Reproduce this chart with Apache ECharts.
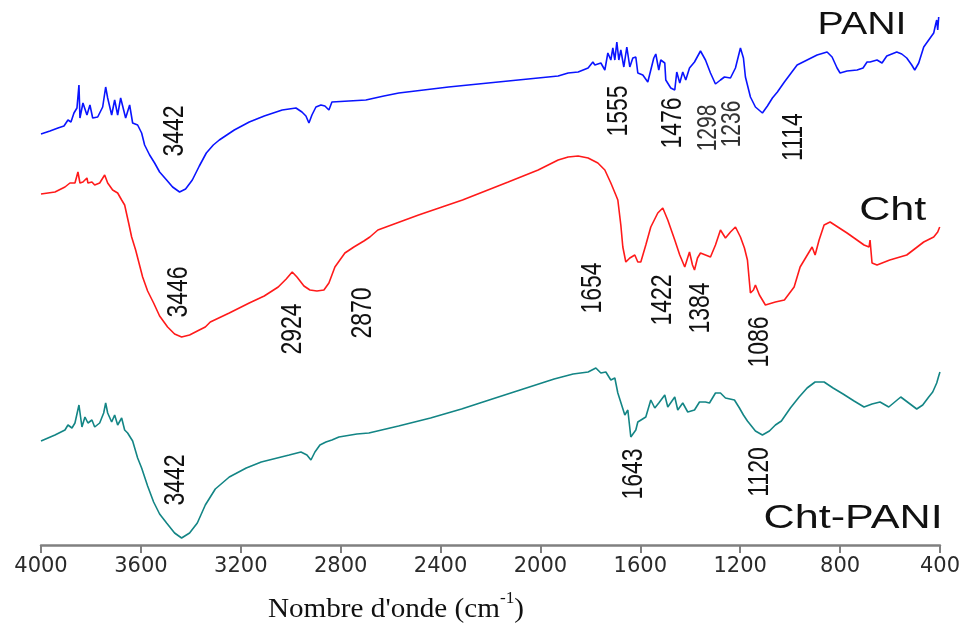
<!DOCTYPE html>
<html>
<head>
<meta charset="utf-8">
<script src="https://cdn.jsdelivr.net/npm/echarts@6/dist/echarts.min.js"></script>
<style>html,body{margin:0;padding:0;background:#fff}#c{width:963px;height:634px}</style>
</head>
<body>
<div id="c"></div>
<script>
// ---- Data (wavenumber cm-1, intensity in arbitrary offset units) ----
const xTicks = [4000,3600,3200,2800,2400,2000,1600,1200,800,400];

const paniWn = [4000,3964,3932,3908,3892,3880,3868,3856,3848,3844,3832,3816,3804,3793,3773,3753,3741,3733,3717,3705,3693,3681,3673,3661,3645,3633,3613,3597,3585,3565,3545,3525,3497,3473,3445,3421,3394,3366,3338,3310,3286,3226,3166,3106,3034,2979,2955,2939,2927,2915,2899,2879,2863,2847,2835,2767,2699,2627,2567,2368,2169,2009,1929,1889,1849,1809,1790,1782,1758,1742,1730,1718,1710,1702,1694,1686,1678,1666,1654,1642,1630,1618,1610,1590,1570,1558,1546,1538,1526,1518,1502,1498,1478,1462,1454,1442,1430,1418,1403,1383,1359,1339,1319,1299,1279,1263,1239,1219,1199,1187,1179,1159,1139,1111,1091,1071,1051,1023,999,972,932,892,852,832,812,800,772,732,708,692,680,652,632,613,573,553,533,513,501,485,465,445,425,417,413,409,405];
const paniT = [411,414,417,419,425,423,432,437,460,427,442,430,440,427,428,438,458,447,430,445,430,447,448,427,440,422,420,412,400,390,382,373,365,358,353,356,365,379,392,400,405,415,423,429,435,437,433,429,422,430,438,440,439,435,443,444,445,449,452,458,463,467,469,472,473,477,483,480,482,475,492,485,497,485,503,485,495,478,498,478,487,488,472,470,463,475,487,491,475,485,482,465,457,455,473,462,473,465,477,483,494,485,472,461,465,468,467,477,497,487,468,448,438,432,439,447,453,463,471,480,485,490,493,488,477,472,474,475,477,483,483,485,482,489,493,491,487,480,475,482,498,505,512,521,525,515,528];

const chtWn = [4000,3944,3904,3884,3864,3852,3844,3832,3816,3812,3796,3785,3765,3745,3733,3713,3693,3677,3665,3649,3637,3621,3593,3573,3549,3525,3493,3465,3437,3405,3366,3342,3322,3246,3166,3106,3050,3018,2994,2975,2947,2923,2895,2867,2847,2823,2803,2783,2747,2707,2683,2651,2488,2312,2129,2009,1929,1889,1849,1809,1770,1742,1718,1698,1690,1678,1670,1658,1642,1622,1610,1598,1578,1558,1530,1510,1490,1462,1442,1422,1403,1391,1383,1371,1359,1339,1319,1299,1279,1259,1239,1219,1199,1183,1171,1159,1147,1139,1123,1099,1059,1023,984,960,936,912,900,884,864,840,772,704,684,680,672,652,601,533,465,425,409,401];
const chtT = [351,353,358,362,362,373,362,363,367,362,363,360,362,370,362,355,352,345,340,322,308,295,268,254,242,229,218,211,208,210,215,218,223,232,242,249,258,266,273,268,259,255,254,255,262,278,285,292,298,304,308,315,330,345,363,375,385,388,389,387,382,375,362,350,345,320,298,283,287,290,283,283,300,318,332,337,325,305,290,278,293,280,275,287,292,290,288,300,315,307,313,318,308,297,285,252,255,260,250,240,243,245,258,278,288,298,290,305,320,323,312,300,298,305,282,280,285,290,303,308,313,318];

const chtPaniWn = [4000,3944,3904,3892,3876,3864,3848,3836,3824,3812,3796,3785,3765,3749,3741,3733,3717,3705,3693,3677,3665,3653,3633,3613,3597,3573,3549,3525,3497,3465,3437,3405,3374,3342,3302,3246,3178,3118,3054,3006,2959,2935,2919,2903,2883,2859,2835,2807,2783,2735,2687,2568,2440,2316,2193,2069,1945,1869,1809,1778,1758,1738,1718,1702,1690,1662,1650,1638,1618,1610,1578,1558,1542,1526,1502,1490,1462,1450,1430,1410,1383,1363,1339,1323,1299,1279,1259,1223,1203,1187,1171,1139,1111,1083,1059,1035,999,964,932,900,864,828,788,744,704,672,640,605,581,557,525,493,469,445,429,413,405,400];
const chtPaniT = [104,110,115,120,117,122,140,118,128,122,125,118,122,132,142,132,123,130,120,127,115,112,104,87,77,59,43,31,22,12,7,12,22,40,56,68,77,83,87,90,93,90,85,93,100,103,105,108,109,111,112,119,127,136,146,156,166,171,173,177,172,173,165,167,152,130,135,108,115,123,128,145,137,142,150,138,148,135,142,133,135,143,143,142,152,152,147,145,137,130,124,114,110,114,120,124,137,148,157,163,163,157,151,144,138,141,143,138,143,148,142,136,140,148,153,162,169,173];

// Peak annotations: text, anchor wavenumber, anchor intensity
const peakText = ['3442','1555','1476','1298','1236','1114','3446','2924','2870','1654','1422','1384','1086','3442','1643','1120'];
const peakWn   = [3465,1686,1470,1327,1231,984,3449,2991,2711,1790,1510,1359,1123,3461,1626,1123];
const peakT    = [414,434,422,417,421,408,253,216,232,257,245,237,203,65,71,73];
const peakSmall= [false,false,false,true,true,false,false,false,false,false,false,false,false,false,false,false];

// Series names and their label anchors
const seriesNames = ['PANI','Cht','Cht-PANI'];
const nameWn = [712,589,748];
const nameT  = [520,334,26];
const nameSize = [31,34,34];
const seriesColors = ['#0a14ff','#ff1a1a','#138585'];

const axisTitle = "Nombre d'onde (cm";
const axisTitleSup = "-1";

const zip = (a,b) => a.map((v,i) => [v, b[i]]);
const seriesData = [zip(paniWn,paniT), zip(chtWn,chtT), zip(chtPaniWn,chtPaniT)];

const chart = echarts.init(document.getElementById('c'), null, {renderer:'canvas'});
const option = {
  animation:false,
  backgroundColor:'#ffffff',
  grid:{left:41, right:20, top:0, bottom:89, containLabel:false},
  xAxis:{
    type:'value', min:400, max:4000, interval:400, inverse:true,
    axisLine:{show:true, lineStyle:{color:'#808080', width:2.5}},
    axisTick:{show:true, length:8, lineStyle:{color:'#808080', width:2}},
    axisLabel:{margin:11, fontFamily:'DejaVu Sans', fontSize:21, color:'#2a2a2a',
      formatter:v => xTicks.indexOf(v) >= 0 ? String(v) : ''},
    splitLine:{show:false}
  },
  yAxis:{type:'value', min:0, max:545, show:false, splitLine:{show:false}},
  series: seriesNames.map((n,i) => ({
    name:n, type:'line', data:seriesData[i], showSymbol:false, smooth:false,
    lineStyle:{color:seriesColors[i], width:1.6}, itemStyle:{color:seriesColors[i]}
  }))
};
chart.setOption(option);

const toPx = (wn,t) => chart.convertToPixel({gridIndex:0}, [wn,t]);
const graphics = [];
peakText.forEach((t,i) => {
  const p = toPx(peakWn[i], peakT[i]);
  graphics.push({type:'text', x:p[0], y:p[1], rotation:Math.PI/2, scaleY:1.3,
    style:{text:t, fontFamily:'Liberation Sans', fontSize: peakSmall[i] ? 21 : 23,
      fill: peakSmall[i] ? '#333' : '#111', align:'center', verticalAlign:'middle'}});
});
seriesNames.forEach((n,i) => {
  const p = toPx(nameWn[i], nameT[i]);
  graphics.push({type:'text', x:p[0], y:p[1], scaleX:1.27,
    style:{text:n, fontFamily:'Liberation Sans', fontSize:nameSize[i], fill:'#111', align:'center', verticalAlign:'middle'}});
});
graphics.push({type:'text', x:396, y:607, scaleX:1.08,
  style:{text:'{a|' + axisTitle + '}{s|' + axisTitleSup + '}{a|)}', align:'center', verticalAlign:'middle',
    rich:{a:{fontFamily:'Liberation Serif', fontSize:27, fill:'#111', lineHeight:32, verticalAlign:'bottom'},
          s:{fontFamily:'Liberation Serif', fontSize:16, fill:'#111', lineHeight:32, verticalAlign:'top'}}}});
chart.setOption({graphic:{elements:graphics}});
</script>
</body>
</html>
